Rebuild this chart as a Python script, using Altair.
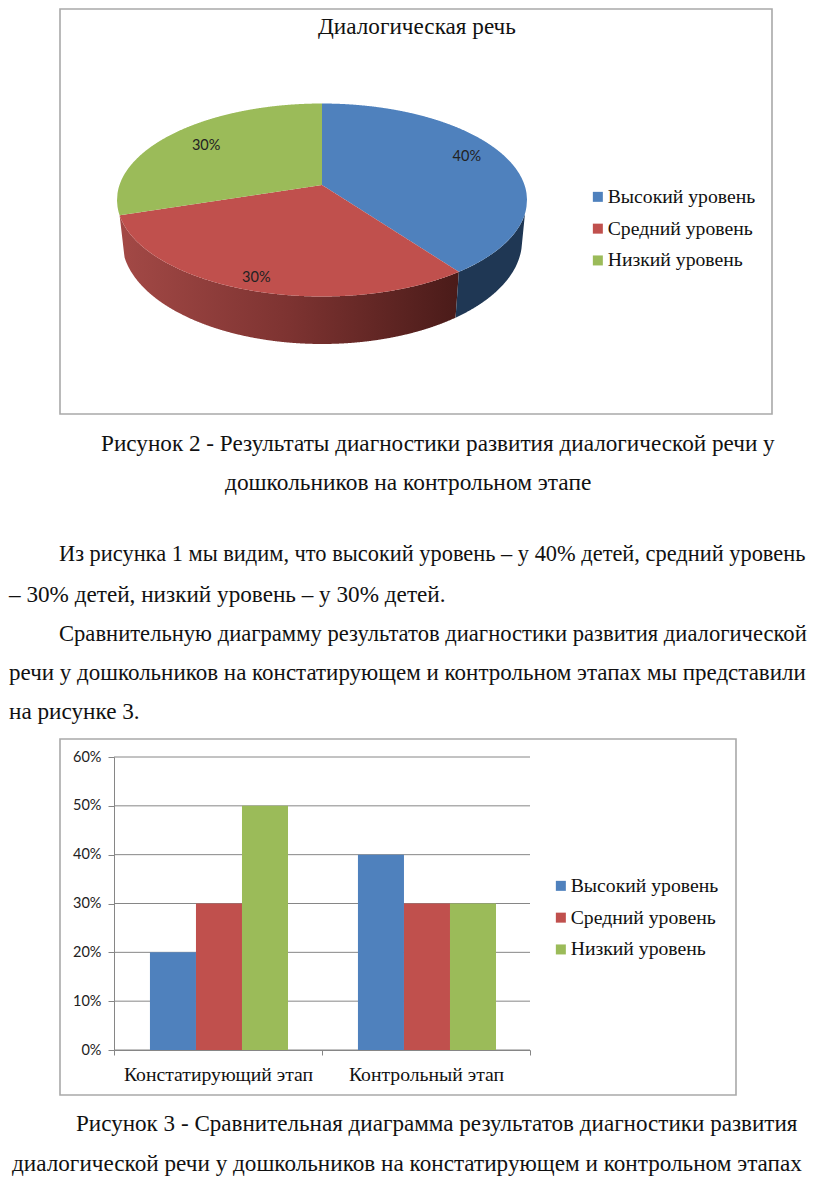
import math
import altair as alt
import pandas as pd

SERIES = ["Высокий уровень", "Средний уровень", "Низкий уровень"]
COLORS = ["#4F81BD", "#C0504D", "#9BBB59"]
PIE_VALUES = [40, 30, 30]
STAGES = ["Констатирующий этап", "Контрольный этап"]
BAR_VALUES = {"Констатирующий этап": [0.2, 0.3, 0.5], "Контрольный этап": [0.4, 0.3, 0.3]}
TICKS = [0, 0.1, 0.2, 0.3, 0.4, 0.5, 0.6]

TEXTS = [
    "Диалогическая речь",
    "Рисунок 2 - Результаты диагностики развития диалогической речи у",
    "дошкольников на контрольном этапе",
    "Из рисунка 1 мы видим, что высокий уровень – у 40% детей, средний уровень",
    "– 30% детей, низкий уровень – у 30% детей.",
    "Сравнительную диаграмму результатов диагностики развития диалогической",
    "речи у дошкольников на констатирующем и контрольном этапах мы представили",
    "на рисунке 3.",
    "Рисунок 3 - Сравнительная диаграмма результатов диагностики развития",
    "диалогической речи у дошкольников на констатирующем и контрольном этапах",
]
# layout of the text lines, in page pixels
LINE_X = [318, 101, 225, 59, 9, 59, 9, 9, 76, 12]
LINE_Y = [34, 451, 490, 561, 602, 641, 680, 719, 1131, 1171]
LINE_SIZE = [23.2, 23.2, 23.4, 22.4, 23.2, 22.6, 23, 23.2, 23.1, 23.2]
FRAMES = [(60, 772, 9, 414), (60, 736, 739, 1095)]
PIE_LABEL_RADIUS = [72.5, 98, 66]
PIE_LABEL_TURN = [-5, 0, 0]

W, H = 800, 1175
PAGE = 8
SERIF = "Liberation Serif"
SANS = "Lato"
AXIS_GREY = "#868686"


def px():
    return alt.Scale(domain=[PAGE, PAGE + W], range=[0, W], zero=False, nice=False)


def py():
    return alt.Scale(domain=[PAGE, PAGE + H], range=[0, H], zero=False, nice=False)


def X(f):
    return alt.X(f, type="quantitative", scale=px(), axis=None, title=None)


def Y(f):
    return alt.Y(f, type="quantitative", scale=py(), axis=None, title=None)


# --- perspective pie geometry, derived from the values
APEX = (322, 185)
TOP = dict(cx=322, cy=200, rx=205, ry=96.5)
LOW = dict(cx=322, cy=241, rx=200, ry=103)
ASPECT = 2.17


def on(e, t):
    return (e["cx"] + e["rx"] * math.sin(t), e["cy"] - e["ry"] * math.cos(t))


def ray_dir(theta):
    return (ASPECT * math.sin(theta), -math.cos(theta))


def ray_param(theta):
    dx, dy = ray_dir(theta)
    ax = (APEX[0] - TOP["cx"]) / TOP["rx"]
    ay = (APEX[1] - TOP["cy"]) / TOP["ry"]
    bx, by = dx / TOP["rx"], dy / TOP["ry"]
    a = bx * bx + by * by
    b = 2 * (ax * bx + ay * by)
    c = ax * ax + ay * ay - 1
    s = (-b + math.sqrt(b * b - 4 * a * c)) / (2 * a)
    px_, py_ = APEX[0] + s * dx, APEX[1] + s * dy
    return math.atan2((px_ - TOP["cx"]) / TOP["rx"], -(py_ - TOP["cy"]) / TOP["ry"]) % (2 * math.pi)


def arc(e, t0, t1, n=80):
    return [on(e, t0 + (t1 - t0) * i / n) for i in range(n + 1)]


def scan(poly, name):
    xs = [p[0] for p in poly]
    rows = []
    x0, x1 = min(xs), max(xs)
    n = int((x1 - x0) * 2)
    samples = [x0 + 1e-6 + (x1 - x0 - 2e-6) * i / n for i in range(n + 1)]
    for x in samples:
        hits = []
        for i in range(len(poly)):
            a, b = poly[i], poly[(i + 1) % len(poly)]
            if (a[0] - x) * (b[0] - x) <= 0 and a[0] != b[0]:
                hits.append(a[1] + (b[1] - a[1]) * (x - a[0]) / (b[0] - a[0]))
        if hits:
            rows.append({"s": name, "x": x, "y0": min(hits), "y1": max(hits)})
    return rows


total = sum(PIE_VALUES)
cum, true_bounds = 0, [0.0]
for v in PIE_VALUES:
    cum += v
    true_bounds.append(2 * math.pi * cum / total)
app = [0.0] + [ray_param(t) for t in true_bounds[1:-1]] + [2 * math.pi]

top_rows = []
for i, name in enumerate(SERIES):
    top_rows += scan([APEX] + arc(TOP, app[i], app[i + 1]), name)

t_right_top, t_right_low = math.radians(98), math.radians(92)
blue_wall = arc(TOP, t_right_top, app[1]) + arc(LOW, app[1], t_right_low)
red_wall = arc(TOP, app[1], app[2]) + arc(LOW, app[2], app[1])

label_rows = []
for i, v in enumerate(PIE_VALUES):
    mid = (true_bounds[i] + true_bounds[i + 1]) / 2 + math.radians(PIE_LABEL_TURN[i])
    dx, dy = ray_dir(mid)
    label_rows.append({
        "x": APEX[0] + PIE_LABEL_RADIUS[i] * dx,
        "y": APEX[1] + PIE_LABEL_RADIUS[i] * dy,
        "t": f"{v}%",
    })

frames = pd.DataFrame(FRAMES, columns=["x0", "x1", "y0", "y1"])
frame_layer = alt.Chart(frames).mark_rect(
    fillOpacity=0, stroke="#a9a9a9", strokeWidth=1.6
).encode(x=X("x0"), x2="x1", y=Y("y0"), y2="y1")

wall_red = alt.Chart(pd.DataFrame(scan(red_wall, "r"))).mark_area(
    color=alt.Gradient(
        gradient="linear", x1=0, x2=1, y1=0, y2=0,
        stops=[
            alt.GradientStop(color="#a34946", offset=0),
            alt.GradientStop(color="#7d3331", offset=0.5),
            alt.GradientStop(color="#4a1b19", offset=1),
        ],
    )
).encode(x=X("x"), y=Y("y0"), y2="y1")

wall_blue = alt.Chart(pd.DataFrame(scan(blue_wall, "b"))).mark_area(color="#1f3754").encode(
    x=X("x"), y=Y("y0"), y2="y1"
)


def color(legend_x, legend_y):
    return alt.Color(
        "s:N",
        scale=alt.Scale(domain=SERIES, range=COLORS),
        sort=SERIES,
        legend=alt.Legend(
            orient="none", legendX=legend_x, legendY=legend_y, title=None,
            symbolType="square", symbolSize=100, symbolStrokeWidth=0,
            labelFont=SERIF, labelFontSize=19.7, labelColor="#111111",
            rowPadding=10.8, labelOffset=0,
        ),
    )


pie_top = alt.Chart(pd.DataFrame(top_rows)).mark_area().encode(
    x=X("x"), y=Y("y0"), y2="y1", color=color(580, 179)
)

pie_labels = alt.Chart(pd.DataFrame(label_rows)).mark_text(
    font=SANS, fontSize=14.5, color="#222222", align="center", baseline="middle"
).encode(x=X("x"), y=Y("y"), text="t:N")

# --- grouped bars
bar_rows = [
    {"stage": st, "s": s, "v": v}
    for st in STAGES
    for s, v in zip(SERIES, BAR_VALUES[st])
]
PLOT = dict(x0=114, x1=530, y0=757, y1=1050)


def bar_y(axis=None):
    return alt.Y(
        "v:Q",
        scale=alt.Scale(domain=[0, 0.6], range=[PLOT["y1"] - PAGE, PLOT["y0"] - PAGE], nice=False),
        axis=axis,
        title=None,
    )


grid = alt.Chart(pd.DataFrame({"v": TICKS, "x0": PLOT["x0"], "x1": PLOT["x1"]})).mark_rule(
    color=AXIS_GREY, strokeWidth=1
).encode(x=X("x0"), x2="x1", y=bar_y())

bars = alt.Chart(pd.DataFrame(bar_rows)).mark_bar().encode(
    x=alt.X(
        "stage:N",
        sort=STAGES,
        scale=alt.Scale(
            domain=STAGES, range=[PLOT["x0"] - PAGE, PLOT["x1"] - PAGE], paddingInner=0, paddingOuter=0
        ),
        axis=alt.Axis(
            orient="bottom", offset=PLOT["y1"] - PAGE - H, title=None, labelAngle=0, labelLimit=300,
            labelFont=SERIF, labelFontSize=19.7, labelColor="#111111", labelPadding=9,
            domainColor=AXIS_GREY, tickColor=AXIS_GREY, tickSize=5, tickBand="extent", grid=False,
        ),
    ),
    xOffset=alt.XOffset(
        "s:N", sort=SERIES,
        scale=alt.Scale(domain=SERIES, paddingOuter=0.76, paddingInner=0, align=0.514),
    ),
    y=bar_y(
        alt.Axis(
            orient="left", offset=-(PLOT["x0"] - PAGE), values=TICKS, format=".0%", grid=False,
            labelFont=SANS, labelFontSize=14.5, labelColor="#222222", labelPadding=7,
            domainColor=AXIS_GREY, tickColor=AXIS_GREY, tickSize=6,
        )
    ),
    color=color(543, 868),
)

text_table = pd.DataFrame({"t": TEXTS, "x": LINE_X, "y": LINE_Y, "fs": LINE_SIZE})
text = alt.Chart(text_table).mark_text(
    font=SERIF, color="#111111", align="left", baseline="alphabetic"
).encode(x=X("x"), y=Y("y"), text="t:N", size=alt.Size("fs:Q", scale=None, legend=None))

chart = (
    alt.layer(frame_layer, wall_red, wall_blue, pie_top, pie_labels, grid, bars, text)
    .resolve_scale(x="independent", y="independent", color="independent")
    .resolve_axis(x="independent", y="independent")
    .properties(width=W, height=H, padding=0, autosize=alt.AutoSizeParams(type="none"),
                background="white")
    .configure_view(stroke=None)
)
chart.save("out.html", embed_options={"renderer": "svg", "actions": False})
